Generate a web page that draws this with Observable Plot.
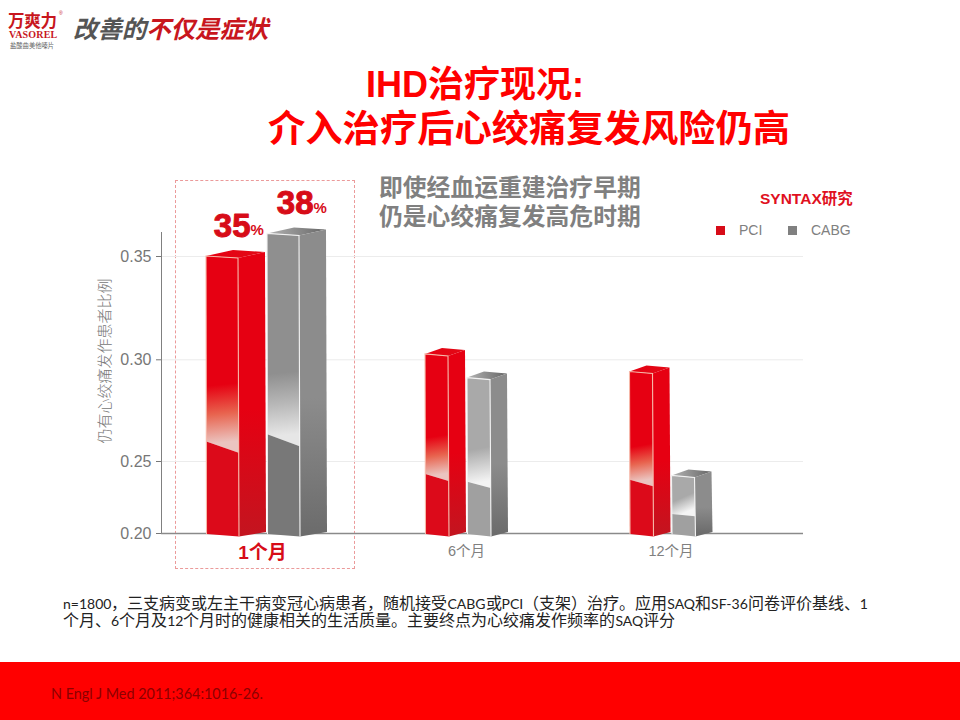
<!DOCTYPE html>
<html lang="zh">
<head>
<meta charset="utf-8">
<script src="https://cdn.jsdelivr.net/npm/d3@7"></script>
<script src="https://cdn.jsdelivr.net/npm/@observablehq/plot@0.6"></script>
<style>
@font-face{font-family:NoteCJK;src:local("Noto Sans CJK SC");ascent-override:85%;descent-override:15%;line-gap-override:0%;}
html,body{margin:0;padding:0;background:#fff;}
#page{position:relative;width:960px;height:720px;overflow:hidden;font-family:"Liberation Sans","Noto Sans CJK SC",sans-serif;}
#page div{position:absolute;white-space:nowrap;}
#chart{left:0;top:170px;width:960px;height:410px;}
#chart svg{overflow:visible;background:transparent;}
.note{left:63px;font-family:NoteCJK,"Noto Sans CJK SC",sans-serif;font-size:16px;color:#222;line-height:17px;}
.note i{font-family:Lato,sans-serif;font-style:normal;font-size:14px;}
</style>
</head>
<body>
<div id="page">
  <div style="left:8px;top:9px;font-size:16.5px;font-weight:bold;color:#c8161d;line-height:24px;letter-spacing:-.3px">万爽力</div>
  <div style="left:59px;top:10px;font-size:5px;color:#c8161d;line-height:6px">®</div>
  <div style="left:9px;top:30px;font-family:'Liberation Serif';font-size:10px;font-weight:bold;color:#c8161d;line-height:10px;letter-spacing:.2px">VASOREL</div>
  <div style="left:10px;top:42px;font-size:6.3px;color:#666;line-height:8px">盐酸曲美他嗪片</div>
  <div style="left:73px;top:15px;font-size:24.4px;font-weight:bold;font-style:italic;color:#555;line-height:30px">改善的<span style="color:#c8161d">不仅是症状</span></div>

  <div style="left:366px;top:62px;font-size:36px;font-weight:bold;color:#f00;line-height:46px">IHD治疗现况:</div>
  <div style="left:268px;top:104px;font-size:37.3px;font-weight:bold;color:#f00;line-height:50px">介入治疗后心绞痛复发风险仍高</div>

  <div id="box" style="left:175px;top:180px;width:178px;height:387px;border:1px dashed #eb9a9a"></div>
  <div id="chart"></div>

  <div style="left:379px;top:172px;font-size:23.8px;font-weight:bold;color:#808080;line-height:32px">即使经血运重建治疗早期</div>
  <div style="left:379px;top:201px;font-size:23.8px;font-weight:bold;color:#808080;line-height:32px">仍是心绞痛复发高危时期</div>

  <div style="left:760px;top:190px;font-size:15.5px;font-weight:bold;color:#e0101e;line-height:18px">SYNTAX研究</div>
  <div style="left:716px;top:226px;width:9px;height:9px;background:#d70c18"></div>
  <div style="left:739px;top:221px;font-size:14px;color:#808080;line-height:18px">PCI</div>
  <div style="left:788px;top:226px;width:9px;height:9px;background:#808080"></div>
  <div style="left:811px;top:221px;font-size:14px;color:#808080;line-height:18px">CABG</div>

  <div class="note" style="top:595px"><i>n=1800</i>，三支病变或左主干病变冠心病患者，随机接受<i>CABG</i>或<i>PCI</i>（支架）治疗。应用<i>SAQ</i>和<i>SF-36</i>问卷评价基线、<i>1</i><br>个月、<i>6</i>个月及<i>12</i>个月时的健康相关的生活质量。主要终点为心绞痛发作频率的<i>SAQ</i>评分</div>

  <div style="left:0;top:662px;width:960px;height:58px;background:#f00"></div>
  <div style="left:51px;top:685px;font-family:Lato,sans-serif;font-size:14.4px;color:#8c0000;line-height:18px">N Engl J Med 2011;364:1016-26.</div>
</div>
<script>
const months = [1, 6, 12];
const pci = [0.35, 0.3026, 0.294];
const cabg = [0.361, 0.291, 0.24];
const peakLabels = ["35", "38"];
const yTicks = [0.2, 0.25, 0.3, 0.35];
const yTitle = "仍有心绞痛发作患者比例";

const rows = months.flatMap((month, i) => [
  {month, series: "PCI", value: pci[i]},
  {month, series: "CABG", value: cabg[i]}
]);
const first = rows.filter((d) => d.month === months[0]);
const labelled = first.map((d, i) => ({...d, label: peakLabels[i]}));

function bars3d(index, scales, values, dims) {
  const g = d3.create("svg:g");
  const defs = g.append("defs");
  const grad = (id, p1, p2, stops) => {
    const lg = defs.append("linearGradient").attr("id", id).attr("gradientUnits", "userSpaceOnUse")
      .attr("x1", p1[0]).attr("y1", p1[1]).attr("x2", p2[0]).attr("y2", p2[1]);
    stops.forEach(([o, c]) => lg.append("stop").attr("offset", o).attr("stop-color", c));
    return `url(#${id})`;
  };
  const poly = (pts, fill) => g.append("polygon").attr("points", pts.map((p) => p.join(",")).join(" ")).attr("fill", fill);
  const base = scales.y(0.2);
  for (const i of index) {
    const d = rows[i];
    const big = d.month === months[0];
    const red = d.series === "PCI";
    const c = scales.x(d.month);
    const f = big ? 32 : 23, s = big ? 27 : 17;
    const l = red ? c - f - s - 1 : c + 1;
    const top = scales.y(d.value);
    const H = base - top;
    const A = [l, top], B = [l + f, top + 2], C = [l + f + 1, base + 3.5], D = [l + 0.5, base + 1];
    const E = [l + f + s, top - 4], F = [l + f + s + 1, base - 1], G = [l + s, top - 6];
    const upper = red ? "#e60012" : big ? "#8f8f8f" : "#a9a9a9";
    const lower = red ? "#dc0a1a" : big ? "#787878" : "#a0a0a0";
    const glow = red ? "#ebc4c0" : big ? "#e6e6e6" : "#f4f4f4";
    const mid = red ? "#e8644f" : big ? "#b8b8b8" : "#cfcfcf";
    const sideTop = red ? "#e60012" : "#8c8c8c";
    const sideBot = red ? "#c4141f" : "#6c6c6c";
    const topL = red ? "#e60012" : "#b4b4b4";
    const topR = red ? "#e20a16" : "#666666";
    poly([A, B, E, G], grad(`t${i}`, A, E, [[0, topL], [1, topR]]));
    poly([B, E, F, C], grad(`s${i}`, [0, top], [0, base], [[0, sideTop], [0.55, sideTop], [1, sideBot]]));
    const splitL = top + 0.67 * H, splitR = top + 0.71 * H;
    const fa = top + 0.47 * H;
    poly([A, B, [B[0] + 0.6, splitR], [l + 0.3, splitL]],
      grad(`f${i}`, [l, fa], [l + 6, splitL + 2], [[0, upper], [0.5, mid], [1, glow]]));
    poly([[l + 0.3, splitL], [B[0] + 0.6, splitR], C, D], lower);
    g.append("polyline").attr("points", [D, A, B, C].map((p) => p.join(",")).join(" "))
      .attr("fill", "none").attr("stroke", red ? "#f6b8a8" : "#f2f2f2").attr("stroke-width", 1.1);
  }
  return g.node();
}

const chart = Plot.plot({
  width: 960,
  height: 410,
  marginLeft: 161,
  marginRight: 157,
  marginTop: 62,
  marginBottom: 47,
  style: {fontFamily: '"Liberation Sans","Noto Sans CJK SC",sans-serif', background: "transparent", overflow: "visible"},
  x: {type: "linear", domain: months, range: [266, 466, 670.5], label: null},
  y: {type: "linear", domain: [0.2, 0.25, 0.3, 0.35, 0.3617], range: [363, 291, 189.3, 86, 62], label: null},
  marks: [
    Plot.ruleY(yTicks.slice(1), {stroke: "#ececec", strokeWidth: 1}),
    Plot.frame({anchor: "left", stroke: "#808080", strokeWidth: 1}),
    Plot.ruleY([0.2], {stroke: "#8a8a8a", strokeWidth: 1.5}),
    Plot.axisY({ticks: yTicks, tickSize: 5, tickPadding: 5, tickFormat: d3.format(".2f"), color: "#777", fontSize: 16, label: null}),
    Plot.axisX({ticks: [months[0]], tickSize: 0, tickPadding: 12, dx: -4, tickFormat: (d) => d + "个月", color: "#d70c18", fontSize: 19, fontWeight: "bold", label: null}),
    Plot.axisX({ticks: months.slice(1), tickSize: 0, tickPadding: 12, tickFormat: (d) => d + "个月", color: "#808080", fontSize: 14.5, label: null}),
    Plot.text([yTitle], {frameAnchor: "left", textAnchor: "middle", rotate: -90, dx: -56, dy: -22, fontSize: 15, fill: "#777", fontWeight: 300}),
    Plot.ruleY(rows, {y: "value", stroke: "none", render: bars3d, x: "month"}),
    Plot.text(labelled.filter((d) => d.series === "PCI"), {x: "month", y: "value", text: "label", textAnchor: "end", dx: -16, dy: -30, fontSize: 33, fontWeight: "bold", fill: "#d70c18", stroke: "#d70c18", strokeWidth: 1}),
    Plot.text(labelled.filter((d) => d.series === "PCI"), {x: "month", y: "value", text: () => "%", textAnchor: "start", dx: -16, dy: -26, fontSize: 15, fontWeight: "bold", fill: "#d70c18"}),
    Plot.text(labelled.filter((d) => d.series === "CABG"), {x: "month", y: "value", text: "label", textAnchor: "end", dx: 47, dy: -30, fontSize: 33, fontWeight: "bold", fill: "#d70c18", stroke: "#d70c18", strokeWidth: 1}),
    Plot.text(labelled.filter((d) => d.series === "CABG"), {x: "month", y: "value", text: () => "%", textAnchor: "start", dx: 47, dy: -26, fontSize: 15, fontWeight: "bold", fill: "#d70c18"})
  ]
});
document.getElementById("chart").appendChild(chart);
</script>
</body>
</html>
